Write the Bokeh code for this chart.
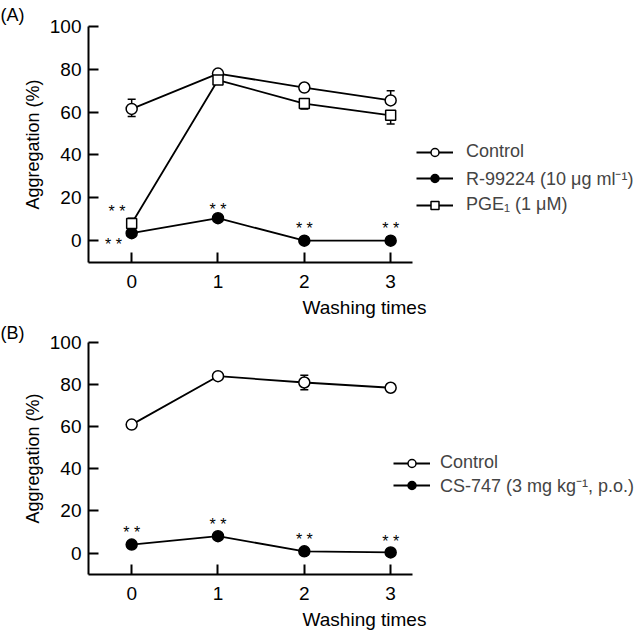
from bokeh.plotting import figure
from bokeh.models import ColumnDataSource, Whisker, TeeHead, Legend, LegendItem, Title, Range1d, FixedTicker
from bokeh.layouts import column
from bokeh.embed import file_html
from bokeh.resources import INLINE
from bokeh.core.properties import value

# ---------------- data ----------------
washes = [0, 1, 2, 3]
y_ticks = [0, 20, 40, 60, 80, 100]

# Panel A
a_control = [61.5, 78.0, 71.5, 65.5]
a_control_up = [4.5, 1.0, 1.5, 4.5]
a_control_lo = [3.5, 1.0, 1.5, 0.0]

a_r99224 = [3.5, 10.5, 0.0, 0.0]
a_r99224_up = [1.0, 1.0, 0.5, 0.5]
a_r99224_lo = [1.0, 1.0, 0.5, 0.5]

a_pge1 = [8.0, 75.0, 64.0, 58.5]
a_pge1_up = [2.5, 1.0, 0.0, 0.0]
a_pge1_lo = [2.0, 1.0, 2.5, 4.0]

a_star_x = [-0.17, -0.21, 1.0, 2.0, 3.0]
a_star_y = [15.5, 0.0, 16.5, 7.5, 7.5]

# Panel B
b_control = [61.0, 84.0, 81.0, 78.5]
b_control_up = [1.0, 1.0, 3.5, 1.0]
b_control_lo = [1.0, 1.0, 3.5, 1.0]

b_cs747 = [4.0, 8.0, 0.8, 0.3]
b_cs747_up = [1.0, 1.0, 0.5, 0.5]
b_cs747_lo = [1.0, 1.0, 0.5, 0.5]

b_star_x = [0.0, 1.0, 2.0, 3.0]
b_star_y = [11.5, 15.5, 8.2, 7.4]

labels_a = ["Control", "R-99224 (10 \u03bcg ml\u207b\u00b9)", "PGE\u2081 (1 \u03bcM)"]
labels_b = ["Control", "CS-747 (3 mg kg\u207b\u00b9, p.o.)"]

FONT = "Liberation Sans"
X_AXIS_END = 3.25


def make_panel(height, b_top, b_bottom, tag, title_standoff):
    p = figure(width=640, height=height, output_backend="svg", toolbar_location=None,
               x_range=Range1d(-0.5, 5.894), y_range=Range1d(-10.2, 100),
               min_border_left=88, min_border_right=0,
               min_border_top=b_top, min_border_bottom=b_bottom)
    p.outline_line_color = None
    p.grid.visible = False
    p.background_fill_color = "white"
    p.border_fill_color = "white"
    for ax in (p.xaxis[0], p.yaxis[0]):
        ax.axis_line_width = 2
        ax.axis_line_color = "black"
        ax.major_tick_line_width = 2
        ax.major_tick_line_color = "black"
        ax.major_tick_in = 10
        ax.major_tick_out = 0
        ax.minor_tick_line_color = None
        ax.major_label_text_font = FONT
        ax.major_label_text_font_size = "19px"
        ax.major_label_text_color = "black"
        ax.axis_label_text_font = FONT
        ax.axis_label_text_font_style = "normal"
        ax.axis_label_text_color = "black"
    p.xaxis.bounds = (-0.5, X_AXIS_END)
    p.xaxis.axis_label_text_font_size = "19px"
    p.yaxis.axis_label_text_font_size = "18px"
    p.xaxis.ticker = FixedTicker(ticks=washes)
    p.yaxis.ticker = FixedTicker(ticks=y_ticks)
    p.xaxis.axis_label = "Washing times"
    p.yaxis.axis_label = "Aggregation (%)"
    p.xaxis.major_label_standoff = 12
    p.xaxis.axis_label_standoff = 6
    p.yaxis.major_label_standoff = 7
    p.yaxis.axis_label_standoff = 4
    p.add_layout(Title(text=tag, align="left", offset=-88, standoff=title_standoff,
                       text_font=FONT, text_font_size="18px", text_font_style="normal",
                       text_color="black"), "above")
    return p


def add_series(p, y, up, lo, marker, fill):
    upper = [v + u for v, u in zip(y, up)]
    lower = [v - l for v, l in zip(y, lo)]
    src = ColumnDataSource(dict(x=washes, y=y, upper=upper, lower=lower))
    w = Whisker(source=src, base="x", upper="upper", lower="lower", dimension="height",
                line_width=1.5, line_color="black",
                upper_head=TeeHead(size=8, line_width=1.5, line_color="black"),
                lower_head=TeeHead(size=8, line_width=1.5, line_color="black"))
    p.add_layout(w)
    ln = p.line("x", "y", source=src, line_width=1.8, line_color="black")
    sc = p.scatter("x", "y", source=src, marker=marker, size=11 if marker == "circle" else 10,
                   line_color="black", line_width=1.5, fill_color=fill)
    return [ln, sc]


def add_stars(p, xs, ys):
    src = ColumnDataSource(dict(x=xs, y=ys, t=["* *"] * len(xs)))
    p.text("x", "y", text="t", source=src, text_font=value(FONT), text_font_size="16px",
           text_align="center", text_baseline="middle", y_offset=4, text_color="black")


def add_legend(p, items, loc, spacing, standoff, fsize):
    lg = Legend(items=items, location=loc, orientation="vertical",
                padding=0, margin=0, spacing=spacing,
                glyph_width=37, glyph_height=20, label_height=20,
                label_standoff=standoff,
                label_text_font=FONT, label_text_font_size=fsize,
                border_line_color=None, background_fill_alpha=0)
    p.add_layout(lg)


# ---------------- Panel A ----------------
pa = make_panel(320, 25, 58, "(A)", 4)
r_ctrl = add_series(pa, a_control, a_control_up, a_control_lo, "circle", "white")
r_r99 = add_series(pa, a_r99224, a_r99224_up, a_r99224_lo, "circle", "black")
r_pge = add_series(pa, a_pge1, a_pge1_up, a_pge1_lo, "square", "white")
add_stars(pa, a_star_x, a_star_y)
add_legend(pa, [LegendItem(label=labels_a[0], renderers=r_ctrl),
                LegendItem(label=labels_a[1], renderers=r_r99),
                LegendItem(label=labels_a[2], renderers=r_pge)],
           (328, 47), 4, 13, "18px")

# ---------------- Panel B ----------------
pb = make_panel(312, 20, 58, "(B)", 0)
r_bc = add_series(pb, b_control, b_control_up, b_control_lo, "circle", "white")
r_cs = add_series(pb, b_cs747, b_cs747_up, b_cs747_lo, "circle", "black")
add_stars(pb, b_star_x, b_star_y)
add_legend(pb, [LegendItem(label=labels_b[0], renderers=r_bc),
                LegendItem(label=labels_b[1], renderers=r_cs)],
           (305, 77), 0, 10, "18px")

layout = column(pa, pb, spacing=0)
open("out.html", "w").write(file_html(layout, INLINE))
